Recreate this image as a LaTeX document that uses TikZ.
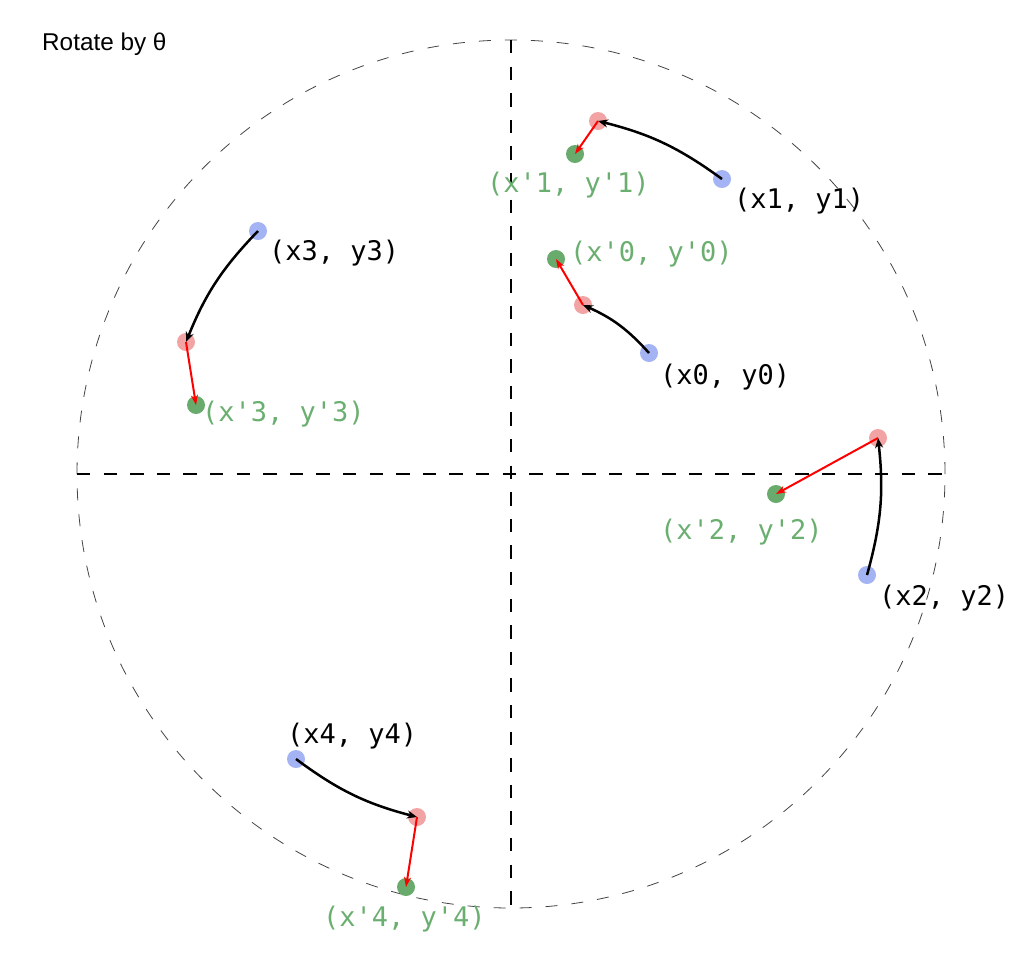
\documentclass[tikz,border=0pt]{standalone}
\usepackage{fontspec}
\setmainfont{Liberation Sans}
\newfontfamily\monof{DejaVu Sans Mono}
\usetikzlibrary{arrows.meta}
\definecolor{dotblue}{HTML}{A4B3F3}
\definecolor{dotred}{HTML}{F2A3A3}
\definecolor{dotgreen}{HTML}{68AB6C}
\definecolor{txtgreen}{HTML}{6BAF70}
\definecolor{circgray}{HTML}{444444}
\tikzset{
  dotbase/.style={circle, inner sep=0pt, minimum size=18pt, draw=none},
  bdot/.style={dotbase, fill=dotblue},
  rdot/.style={dotbase, fill=dotred},
  gdot/.style={dotbase, fill=dotgreen},
  lbl/.style={anchor=west, inner sep=0pt, font=\monof\fontsize{27}{31}\selectfont},
  blbl/.style={lbl, text=black},
  glbl/.style={lbl, text=txtgreen},
  axisline/.style={line width=2.8pt, black, dash pattern=on 13.3pt off 13.3pt},
  circline/.style={line width=0.8pt, circgray, dash pattern=on 12pt off 14pt},
  rotarrow/.style={line width=2.5pt, black, -{Stealth[length=10pt,width=8pt]}},
  shiftarrow/.style={line width=2pt, red, -{Stealth[length=10pt,width=7pt]}}
}
\begin{document}
\begin{tikzpicture}[x=1pt,y=-1pt]
\useasboundingbox (0,0) rectangle (1024,954);

% circle and axes
\coordinate (O) at (511,474);
\coordinate (vtop) at (511,40);
\coordinate (vbot) at (511,908);
\coordinate (hleft) at (77,474);
\coordinate (hright) at (945,474);
\draw[circline] (O) circle[radius=434pt];
\draw[axisline] (vtop) -- (vbot);
\draw[axisline] (hleft) -- (hright);

% title
\node[anchor=base west, inner sep=0pt, font=\fontsize{24.3}{28}\selectfont] (title) at (42,50) {Rotate by θ};

% dots
\node[bdot] (b0) at (649,353) {};
\node[rdot] (r0) at (583,305) {};
\node[gdot] (g0) at (556,259) {};

\node[bdot] (b1) at (722,179) {};
\node[rdot] (r1) at (598,121) {};
\node[gdot] (g1) at (575,154) {};

\node[bdot] (b2) at (867,575) {};
\node[rdot] (r2) at (878,438) {};
\node[gdot] (g2) at (776,494) {};

\node[bdot] (b3) at (258,231) {};
\node[rdot] (r3) at (186,342) {};
\node[gdot] (g3) at (196,405) {};

\node[bdot] (b4) at (296,759) {};
\node[rdot] (r4) at (417,817) {};
\node[gdot] (g4) at (406,887) {};

% arrows
\draw[rotarrow] (b0.center) to[bend right=12] (r0.center);
\draw[rotarrow] (b1.center) to[bend right=11] (r1.center);
\draw[rotarrow] (b2.center) to[bend right=11] (r2.center);
\draw[rotarrow] (b3.center) to[bend right=11] (r3.center);
\draw[rotarrow] (b4.center) to[bend right=11] (r4.center);

\draw[shiftarrow] (r0.center) -- (g0.center);
\draw[shiftarrow] (r1.center) -- (g1.center);
\draw[shiftarrow] (r2.center) -- (g2.center);
\draw[shiftarrow] (r3.center) -- (g3.center);
\draw[shiftarrow] (r4.center) -- (g4.center);

% labels
\node[blbl] (lb0) at (660,377) {(x0, y0)};
\node[glbl] (lg0) at (570,254) {(x'0, y'0)};
\node[blbl] (lb1) at (734,201) {(x1, y1)};
\node[glbl] (lg1) at (487,185) {(x'1, y'1)};
\node[blbl] (lb2) at (879,598) {(x2, y2)};
\node[glbl] (lg2) at (660,532) {(x'2, y'2)};
\node[blbl] (lb3) at (269,253) {(x3, y3)};
\node[glbl] (lg3) at (202,414) {(x'3, y'3)};
\node[blbl] (lb4) at (287,736) {(x4, y4)};
\node[glbl] (lg4) at (323,919) {(x'4, y'4)};
\end{tikzpicture}
\end{document}
